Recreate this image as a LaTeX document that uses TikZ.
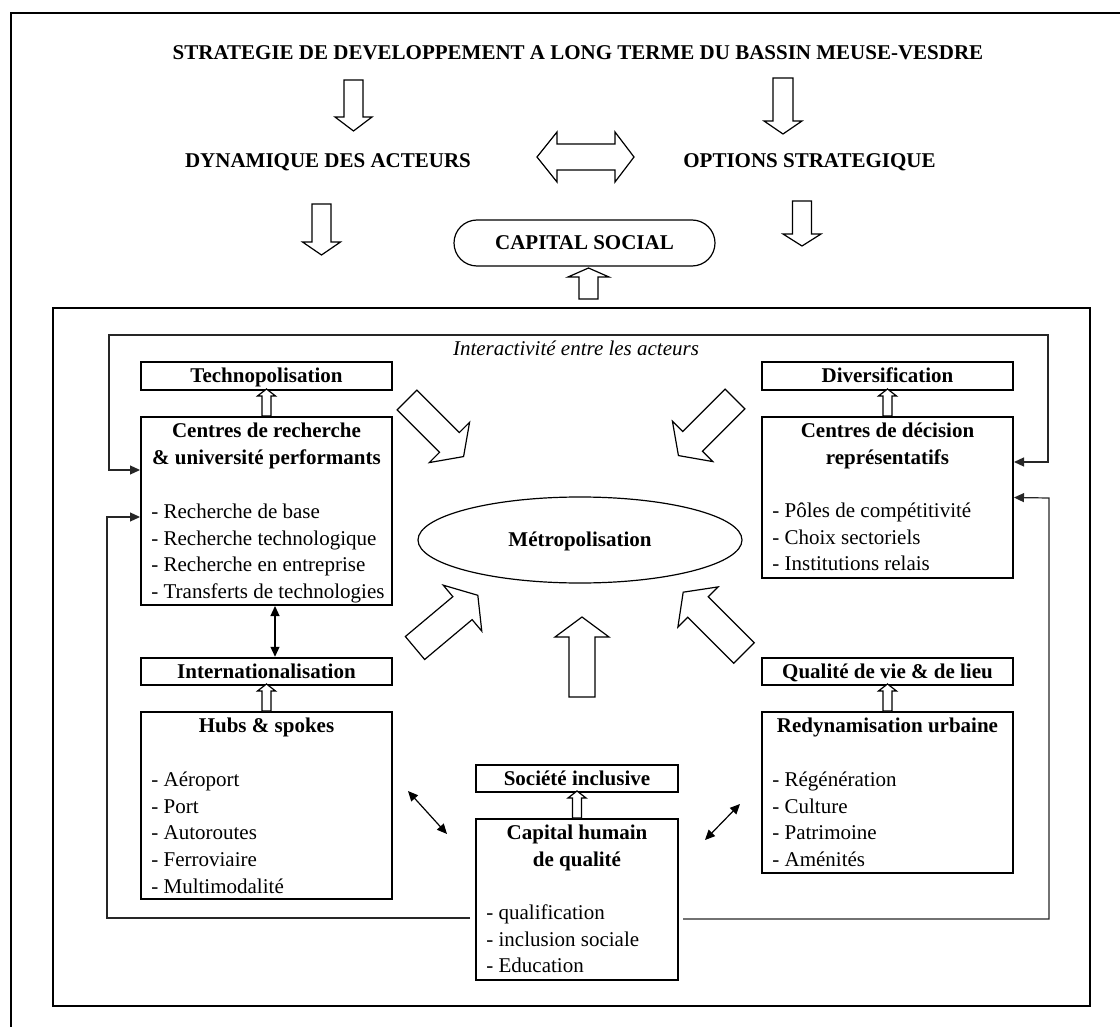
\documentclass[tikz,border=0pt]{standalone}
\usepackage{fontspec}
\setmainfont{Liberation Serif}
\usetikzlibrary{arrows.meta,calc,shapes.geometric}

% hollow block arrow: tail point, angle, total length, shaft width, head width, head length
\newcommand\blockarrow[6]{%
  \begin{scope}[shift={#1}, rotate=#2]
    \draw[hollowline] (0,-#4/2) -- ({#3-#6},-#4/2) -- ({#3-#6},-#5/2) -- (#3,0)
      -- ({#3-#6},#5/2) -- ({#3-#6},#4/2) -- (0,#4/2) -- cycle;
  \end{scope}}

\tikzset{
  txt/.style={font=\fontsize{10.5}{13.33}\selectfont, inner sep=0pt},
  btxt/.style={font=\fontsize{10.5}{13.33}\selectfont\bfseries, inner sep=0pt},
  hdr/.style={btxt, draw, line width=1pt, minimum width=125.5pt, minimum height=13.75pt,
              text height=6.9pt, text depth=0pt},
  bigbox/.style={draw, line width=1pt, minimum width=125.5pt, inner sep=0pt},
  ttl/.style={btxt, align=center, anchor=north},
  items/.style={txt, align=left, anchor=north west},
  ithin/.style={line width=0.6pt, black!85},
  hollowline/.style={line width=0.6pt, fill=white, line join=miter},
  frame/.style={line width=0.9pt},
}

\begin{document}
\begin{tikzpicture}[x=0.5pt, y=-0.5pt, >={Triangle[length=5pt,width=4.5pt]}]
\useasboundingbox (0,0) rectangle (1120,1027);

% outer frame (partly visible)
\coordinate (oBL) at (11,1027);
\coordinate (oTL) at (11,13);
\coordinate (oTR) at (1120,13);
\draw[frame] (oBL) -- (oTL) -- (oTR);

% top texts
\node[btxt, anchor=base] (title) at (578,60) {STRATEGIE DE DEVELOPPEMENT A LONG TERME DU BASSIN MEUSE-VESDRE};
\node[btxt, anchor=base] (dyn) at (328,168) {DYNAMIQUE DES ACTEURS};
\node[btxt, anchor=base] (opt) at (809.5,168) {OPTIONS STRATEGIQUE};

% capital social
\node[btxt, draw, line width=0.6pt, rounded corners=11.5pt, minimum width=130.5pt, minimum height=23pt,
      text height=6.9pt, text depth=0pt] (cap) at (584.5,243) {CAPITAL SOCIAL};

% top hollow arrows
\blockarrow{(353.5,80)}{-90}{51}{19}{37}{14}
\blockarrow{(783,78)}{-90}{56}{20}{38}{13}
\blockarrow{(321.5,204)}{-90}{51}{19}{38}{13}
\blockarrow{(802,201)}{-90}{45}{19}{38}{12}
\blockarrow{(588.5,299)}{90}{31}{19}{41}{9}
\draw[hollowline] (537,157) -- (557,132) -- (557,144) -- (615,144) -- (615,132) -- (634,157)
  -- (615,182) -- (615,170) -- (557,170) -- (557,182) -- cycle;

% inner frame
\node[draw, frame, minimum width=518.5pt, minimum height=349pt, inner sep=0pt] (inner) at (571.5,657) {};

% interactivity frame text
\node[txt, font=\fontsize{10.5}{13.33}\selectfont\itshape, anchor=base] (inter) at (576,356) {Interactivité entre les acteurs};

% boxes - left column
\node[hdr] (techno) at (266.5,376) {Technopolisation};
\node[bigbox, minimum height=94pt] (cr) at (266.5,511) {};
\node[ttl] (crT) at (266.5,418.33) {\strut Centres de recherche\\\strut \& université performants};
\node[items] (crI) at (151,499.33) {\strut - Recherche de base\\\strut - Recherche technologique\\\strut - Recherche en entreprise\\\strut - Transferts de technologies};

\node[hdr] (intl) at (266.5,671.5) {Internationalisation};
\node[bigbox, minimum height=93.5pt] (hubs) at (266.5,805.5) {};
\node[ttl] (hubsT) at (266.5,713.33) {\strut Hubs \& spokes};
\node[items] (hubsI) at (151,767.33) {\strut - Aéroport\\\strut - Port\\\strut - Autoroutes\\\strut - Ferroviaire\\\strut - Multimodalité};

% right column
\node[hdr] (divers) at (887.5,376) {Diversification};
\node[bigbox, minimum height=80.5pt] (cd) at (887.5,497.5) {};
\node[ttl] (cdT) at (887.5,418.33) {\strut Centres de décision\\\strut représentatifs};
\node[items] (cdI) at (772,498.33) {\strut - Pôles de compétitivité\\\strut - Choix sectoriels\\\strut - Institutions relais};

\node[hdr] (qual) at (887.5,671.5) {Qualité de vie \& de lieu};
\node[bigbox, minimum height=80.5pt] (redyn) at (887.5,792.5) {};
\node[ttl] (redynT) at (887.5,713.33) {\strut Redynamisation urbaine};
\node[items] (redynI) at (772,767.33) {\strut - Régénération\\\strut - Culture\\\strut - Patrimoine\\\strut - Aménités};

% center column
\node[hdr, minimum width=101pt] (soc) at (577,778.5) {Société inclusive};
\node[bigbox, minimum width=101pt, minimum height=80.5pt] (ch) at (577,899.5) {};
\node[ttl] (chT) at (577,820.33) {\strut Capital humain\\\strut de qualité};
\node[items] (chI) at (486,900.33) {\strut - qualification\\\strut - inclusion sociale\\\strut - Education};

% metropolisation
\node[btxt, draw, ellipse, line width=0.6pt, minimum width=162pt, minimum height=43pt,
      text height=6.9pt, text depth=0pt] (metro) at (580,540) {Métropolisation};

% small hollow arrows between boxes
\blockarrow{(cr.north)}{90}{27}{9}{18}{7}
\blockarrow{(hubs.north)}{90}{27}{9}{18}{7}
\blockarrow{(cd.north)}{90}{27}{9}{18}{7}
\blockarrow{(redyn.north)}{90}{27}{9}{18}{7}
\blockarrow{(ch.north)}{90}{27}{9}{18}{7}

% big hollow arrows towards metropolisation
\blockarrow{(407,400)}{-45}{80}{28}{57}{20}
\blockarrow{(735,399)}{-135}{80}{28}{57}{20}
\blockarrow{(415,648)}{40}{82}{30}{60}{20}
\blockarrow{(744,653)}{135}{86}{29}{57}{21}
\blockarrow{(582,697)}{90}{80}{26}{54}{20}

% interactivity lines
\coordinate (iTL) at (109,335);
\coordinate (iTR) at (1048,335);
\coordinate (iL1) at (109,470);
\coordinate (iR1) at (1048,462);
\coordinate (iBLs) at (470,918);
\coordinate (iBL) at (107,918);
\coordinate (iL2) at (107,517);
\coordinate (iBRs) at (683,919);
\coordinate (iBR) at (1049,919);
\coordinate (iR2) at (1049,498);
\draw[ithin, <->] ([yshift=20.5pt]cr.west) -- (iL1) -- (iTL) -- (iTR) -- (iR1) -- ([yshift=17.75pt]cd.east);
\draw[ithin, ->] (iBLs) -- (iBL) -- (iL2) -- ([yshift=-3pt]cr.west);
\draw[ithin, ->] (iBRs) -- (iBR) -- (iR2) -- (cd.east);

% thin double arrows
\draw[line width=0.6pt, <->] ([xshift=4.25pt]cr.south) -- ([xshift=4.25pt]intl.north);
\coordinate (d1a) at (408,791);
\coordinate (d1b) at (447,834);
\coordinate (d2a) at (705,840);
\coordinate (d2b) at (740,804);
\draw[line width=0.6pt, <->] (d1a) -- (d1b);
\draw[line width=0.6pt, <->] (d2a) -- (d2b);
\end{tikzpicture}
\end{document}
